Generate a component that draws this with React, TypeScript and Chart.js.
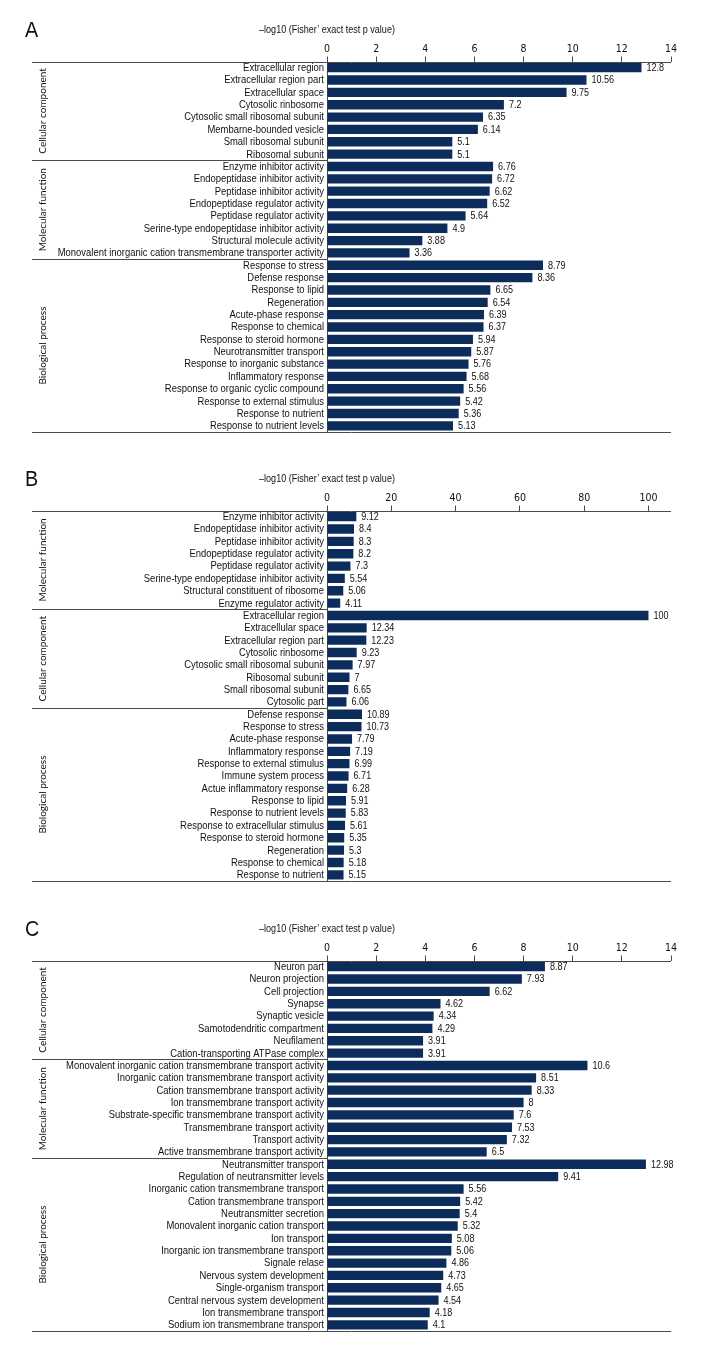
import React, { useEffect, useRef } from 'react';
import { Chart, registerables } from 'chart.js';

Chart.register(...registerables);

const FONT = "'DejaVu Sans Condensed', 'Liberation Sans Narrow', 'Arial Narrow', sans-serif";
const TEXT_FONT = "'Liberation Sans', Arial, sans-serif";
const GROUP_FONT = "Lato, 'Open Sans', 'Noto Sans', sans-serif";
const BAR_COLOR = '#0c2d5b';
const LINE_COLOR = '#4a4a4a';
const TEXT_COLOR = '#111111';
const AXIS_TITLE = '–log10 (Fisher’ exact test p value)';
const SQUEEZE = 0.86;
const LABEL_SQUEEZE = 0.9;

// ---------- Panel A ----------
const A_CATEGORIES = [
  'Extracellular region', 'Extracellular region part', 'Extracellular space', 'Cytosolic rinbosome',
  'Cytosolic small ribosomal subunit', 'Membarne-bounded vesicle', 'Small ribosomal subunit', 'Ribosomal subunit',
  'Enzyme inhibitor activity', 'Endopeptidase inhibitor activity', 'Peptidase inhibitor activity',
  'Endopeptidase regulator activity', 'Peptidase regulator activity', 'Serine-type endopeptidase inhibitor activity',
  'Structural molecule activity', 'Monovalent inorganic cation transmembrane transporter activity',
  'Response to stress', 'Defense response', 'Response to lipid', 'Regeneration', 'Acute-phase response',
  'Response to chemical', 'Response to steroid hormone', 'Neurotransmitter transport',
  'Response to inorganic substance', 'Inflammatory response', 'Response to organic cyclic compound',
  'Response to external stimulus', 'Response to nutrient', 'Response to nutrient levels',
];
const A_VALUES = [
  12.8, 10.56, 9.75, 7.2, 6.35, 6.14, 5.1, 5.1,
  6.76, 6.72, 6.62, 6.52, 5.64, 4.9, 3.88, 3.36,
  8.79, 8.36, 6.65, 6.54, 6.39, 6.37, 5.94, 5.87, 5.76, 5.68, 5.56, 5.42, 5.36, 5.13,
];
const A_GROUP_NAMES = ['Cellular component', 'Molecular function', 'Biological process'];
const A_GROUP_SIZES = [8, 8, 14];

// ---------- Panel B ----------
const B_CATEGORIES = [
  'Enzyme inhibitor activity', 'Endopeptidase inhibitor activity', 'Peptidase inhibitor activity',
  'Endopeptidase regulator activity', 'Peptidase regulator activity', 'Serine-type endopeptidase inhibitor activity',
  'Structural constituent of ribosome', 'Enzyme regulator activity',
  'Extracellular region', 'Extracellular space', 'Extracellular region part', 'Cytosolic rinbosome',
  'Cytosolic small ribosomal subunit', 'Ribosomal subunit', 'Small ribosomal subunit', 'Cytosolic part',
  'Defense response', 'Response to stress', 'Acute-phase response', 'Inflammatory response',
  'Response to external stimulus', 'Immune system process', 'Actue inflammatory response', 'Response to lipid',
  'Response to nutrient levels', 'Response to extracellular stimulus', 'Response to steroid hormone',
  'Regeneration', 'Response to chemical', 'Response to nutrient',
];
const B_VALUES = [
  9.12, 8.4, 8.3, 8.2, 7.3, 5.54, 5.06, 4.11,
  100, 12.34, 12.23, 9.23, 7.97, 7, 6.65, 6.06,
  10.89, 10.73, 7.79, 7.19, 6.99, 6.71, 6.28, 5.91, 5.83, 5.61, 5.35, 5.3, 5.18, 5.15,
];
const B_GROUP_NAMES = ['Molecular function', 'Cellular component', 'Biological process'];
const B_GROUP_SIZES = [8, 8, 14];

// ---------- Panel C ----------
const C_CATEGORIES = [
  'Neuron part', 'Neuron projection', 'Cell projection', 'Synapse', 'Synaptic vesicle',
  'Samotodendritic compartment', 'Neufilament', 'Cation-transporting ATPase complex',
  'Monovalent inorganic cation transmembrane transport activity', 'Inorganic cation transmembrane transport activity',
  'Cation transmembrane transport activity', 'Ion transmembrane transport activity',
  'Substrate-specific transmembrane transport activity', 'Transmembrane transport activity',
  'Transport activity', 'Active transmembrane transport activity',
  'Neutransmitter transport', 'Regulation of neutransmitter levels', 'Inorganic cation transmembrane transport',
  'Cation transmembrane transport', 'Neutransmitter secretion', 'Monovalent inorganic cation transport',
  'Ion transport', 'Inorganic ion transmembrane transport', 'Signale relase', 'Nervous system development',
  'Single-organism transport', 'Central nervous system development', 'Ion transmembrane transport',
  'Sodium ion transmembrane transport',
];
const C_VALUES = [
  8.87, 7.93, 6.62, 4.62, 4.34, 4.29, 3.91, 3.91,
  10.6, 8.51, 8.33, 8, 7.6, 7.53, 7.32, 6.5,
  12.98, 9.41, 5.56, 5.42, 5.4, 5.32, 5.08, 5.06, 4.86, 4.73, 4.65, 4.54, 4.18, 4.1,
];
const C_GROUP_NAMES = ['Cellular component', 'Molecular function', 'Biological process'];
const C_GROUP_SIZES = [8, 8, 14];

const LINE_LEFT = 32;
const LINE_RIGHT = 671;
const AXIS_X = 327;

function squeezedText(ctx: CanvasRenderingContext2D, text: string, x: number, y: number,
  align: CanvasTextAlign, size: number, sx: number) {
  ctx.save();
  ctx.translate(x, y);
  ctx.scale(sx, 1);
  ctx.font = `${size}px ${TEXT_FONT}`;
  ctx.textAlign = align;
  ctx.textBaseline = 'middle';
  ctx.fillText(text, 0, 0);
  ctx.restore();
}

const decoPlugin = {
  id: 'panelDeco',
  afterDraw(chart: any, _args: any, opts: any) {
    const { ctx, chartArea, scales } = chart;
    const y = scales.y;
    const snap = (v: number) => Math.round(v) + 0.5;
    ctx.save();
    ctx.strokeStyle = LINE_COLOR;
    ctx.lineWidth = 1;
    const hline = (yy: number, x0: number, x1: number) => {
      ctx.beginPath();
      ctx.moveTo(x0, snap(yy));
      ctx.lineTo(x1, snap(yy));
      ctx.stroke();
    };
    hline(chartArea.top, LINE_LEFT, LINE_RIGHT);
    hline(chartArea.bottom, LINE_LEFT, LINE_RIGHT);

    ctx.fillStyle = TEXT_COLOR;

    // category labels
    const labels: string[] = chart.data.labels;
    labels.forEach((lab, i) => {
      squeezedText(ctx, lab, chartArea.left - 3, y.getPixelForValue(i) + 0.5, 'right', 10.5, LABEL_SQUEEZE);
    });

    let idx = 0;
    const sizes: number[] = opts.groupSizes;
    const names: string[] = opts.groupNames;
    sizes.forEach((n, gi) => {
      const first = idx;
      const last = idx + n - 1;
      if (gi > 0) {
        const sep = (y.getPixelForValue(first - 1) + y.getPixelForValue(first)) / 2;
        hline(sep, LINE_LEFT, chartArea.left);
      }
      const cy = (y.getPixelForValue(first) + y.getPixelForValue(last)) / 2;
      ctx.save();
      ctx.translate(43, cy);
      ctx.rotate(-Math.PI / 2);
      ctx.font = `10px ${GROUP_FONT}`;
      ctx.textAlign = 'center';
      ctx.textBaseline = 'middle';
      ctx.fillText(names[gi], 0, 0);
      ctx.restore();
      idx += n;
    });

    // value labels
    const values: number[] = opts.values;
    const meta = chart.getDatasetMeta(0);
    meta.data.forEach((el: any, i: number) => {
      squeezedText(ctx, String(values[i]), el.x + 5, el.y + 0.5, 'left', 10.5, SQUEEZE);
    });

    squeezedText(ctx, AXIS_TITLE, chartArea.left, chartArea.top - 31, 'center', 10.5, SQUEEZE);
    squeezedText(ctx, opts.letter, 25, chartArea.top - 31, 'left', 22, 0.9);
    ctx.restore();
  },
};

type PanelProps = {
  letter: string;
  categories: string[];
  values: number[];
  groupNames: string[];
  groupSizes: number[];
  xMax: number;
  xStep: number;
  height: number;
  top: number;
  axisTop: number;
  axisBottom: number;
};

function Panel(p: PanelProps) {
  const ref = useRef<HTMLCanvasElement | null>(null);
  useEffect(() => {
    if (!ref.current) return;
    const chart = new Chart(ref.current, {
      type: 'bar',
      data: {
        labels: p.categories,
        datasets: [
          {
            data: p.values,
            backgroundColor: BAR_COLOR,
            borderWidth: 0,
            barPercentage: 0.76,
            categoryPercentage: 1,
          },
        ],
      },
      options: {
        indexAxis: 'y',
        responsive: false,
        animation: false,
        events: [],
        layout: {
          padding: { top: 0, left: 0, right: 708 - LINE_RIGHT, bottom: p.height - p.axisBottom },
        },
        plugins: {
          legend: { display: false },
          tooltip: { enabled: false },
          title: { display: false },
          panelDeco: {
            letter: p.letter,
            values: p.values,
            groupNames: p.groupNames,
            groupSizes: p.groupSizes,
          },
        } as any,
        scales: {
          x: {
            type: 'linear',
            position: 'top',
            min: 0,
            max: p.xMax,
            afterFit: (s: any) => {
              s.height = p.axisTop;
            },
            afterBuildTicks: (s: any) => {
              const t: any[] = [];
              for (let v = 0; v <= p.xMax + 1e-9; v += p.xStep) t.push({ value: v });
              s.ticks = t;
            },
            ticks: {
              stepSize: p.xStep,
              color: TEXT_COLOR,
              font: { family: FONT, size: 10.5 },
              padding: 1,
              maxRotation: 0,
            },
            grid: {
              drawOnChartArea: false,
              drawTicks: true,
              tickLength: 5,
              color: LINE_COLOR,
            },
            border: { display: false },
          },
          y: {
            type: 'category',
            afterFit: (s: any) => {
              s.width = AXIS_X;
            },
            ticks: { display: false, autoSkip: false },
            grid: { display: false, drawTicks: false },
            border: { display: true, color: LINE_COLOR, width: 1 },
          },
        },
      },
      plugins: [decoPlugin],
    });
    return () => chart.destroy();
  }, []);
  return (
    <div style={{ position: 'absolute', left: 0, top: p.top, width: 708, height: p.height }}>
      <canvas ref={ref} width={708} height={p.height} style={{ width: 708, height: p.height, display: 'block' }} />
    </div>
  );
}

export default function App() {
  return (
    <div style={{ position: 'absolute', left: 0, top: 0, width: 708, height: 1368, background: '#fff' }}>
      <Panel letter="A" categories={A_CATEGORIES} values={A_VALUES} groupNames={A_GROUP_NAMES}
        groupSizes={A_GROUP_SIZES} xMax={14} xStep={2} top={0} height={450} axisTop={61.5} axisBottom={432} />
      <Panel letter="B" categories={B_CATEGORIES} values={B_VALUES} groupNames={B_GROUP_NAMES}
        groupSizes={B_GROUP_SIZES} xMax={107} xStep={20} top={450} height={450} axisTop={60.5} axisBottom={431} />
      <Panel letter="C" categories={C_CATEGORIES} values={C_VALUES} groupNames={C_GROUP_NAMES}
        groupSizes={C_GROUP_SIZES} xMax={14} xStep={2} top={900} height={468} axisTop={60.5} axisBottom={431} />
    </div>
  );
}
